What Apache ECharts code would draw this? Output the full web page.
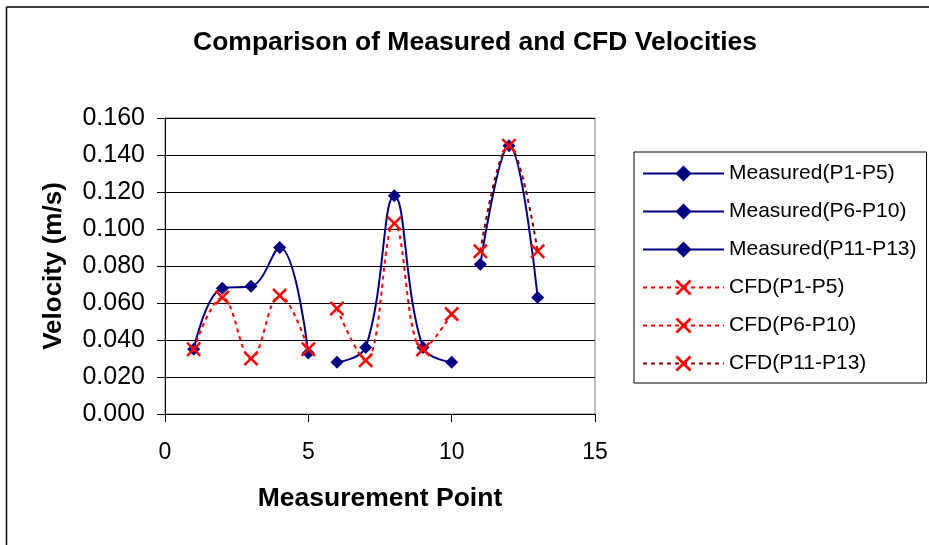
<!DOCTYPE html>
<html><head><meta charset="utf-8">
<script src="https://cdn.jsdelivr.net/npm/echarts@6/dist/echarts.min.js"></script>
<style>html,body{margin:0;padding:0;background:#fff}#c{width:929px;height:545px}</style>
</head><body><div id="c"></div>
<script>
// ---- data ----
const titleText = 'Comparison of Measured and CFD Velocities';
const xAxisName = 'Measurement Point';
const yAxisName = 'Velocity (m/s)';
const pointsP1_P5 = [1, 2, 3, 4, 5];
const pointsP6_P10 = [6, 7, 8, 9, 10];
const pointsP11_P13 = [11, 12, 13];
const measuredP1_P5 = [0.035, 0.068, 0.069, 0.090, 0.033];
const measuredP6_P10 = [0.028, 0.036, 0.118, 0.036, 0.028];
const measuredP11_P13 = [0.081, 0.145, 0.063];
const cfdP1_P5 = [0.035, 0.063, 0.030, 0.064, 0.035];
const cfdP6_P10 = [0.057, 0.029, 0.103, 0.035, 0.054];
const cfdP11_P13 = [0.088, 0.145, 0.088];
const seriesNames = ['Measured(P1-P5)', 'Measured(P6-P10)', 'Measured(P11-P13)', 'CFD(P1-P5)', 'CFD(P6-P10)', 'CFD(P11-P13)'];
const xMin = 0, xMax = 15, xStep = 5;
const yMin = 0, yMax = 0.16, yStep = 0.02;

// ---- build ----
const FONT = "'Liberation Sans', Arial, sans-serif";
const NAVY = '#000080', RED = '#FF0000', DARKRED = '#800000';
const X_PATH = 'path://M0,1.2 L1.2,0 L5,3.8 L8.8,0 L10,1.2 L6.2,5 L10,8.8 L8.8,10 L5,6.2 L1.2,10 L0,8.8 L3.8,5 Z';
const pair = (xs, ys) => xs.map((x, i) => [x, ys[i]]);

function measured(name, xs, ys) {
  return {
    name, type: 'line', data: pair(xs, ys), smooth: 0.4,
    symbol: 'diamond', symbolSize: 13,
    itemStyle: { color: NAVY },
    lineStyle: { color: NAVY, width: 2, type: 'solid' },
    emphasis: { disabled: true }, z: 2
  };
}
function cfd(name, xs, ys, lineColor) {
  return {
    name, type: 'line', data: pair(xs, ys), smooth: 0.4,
    symbol: X_PATH, symbolSize: 15,
    itemStyle: { color: RED },
    lineStyle: { color: lineColor, width: 2, type: [4, 4] },
    emphasis: { disabled: true }, z: 3
  };
}

const chart = echarts.init(document.getElementById('c'), null, { renderer: 'canvas' });
chart.setOption({
  animation: false,
  backgroundColor: '#fff',
  textStyle: { fontFamily: FONT },
  title: {
    text: titleText, left: 470, top: 24, textAlign: 'center',
    textStyle: { fontFamily: FONT, fontSize: 26.5, fontWeight: 'bold', color: '#000' }
  },
  graphic: [
    { type: 'line', shape: { x1: 6.5, y1: 7, x2: 929, y2: 7 }, style: { stroke: '#000', lineWidth: 1.5 } },
    { type: 'line', shape: { x1: 6.5, y1: 7, x2: 6.5, y2: 545 }, style: { stroke: '#000', lineWidth: 1.5 } }
  ],
  legend: {
    orient: 'vertical', left: 634, top: 152,
    padding: [11, 10, 9, 8],
    borderColor: '#000', borderWidth: 1,
    itemWidth: 81, itemHeight: 20, itemGap: 17,
    textStyle: { fontFamily: FONT, fontSize: 21, color: '#000' },
    data: seriesNames
  },
  grid: {
    left: 165, right: 334, top: 118, bottom: 131,
    show: true, borderColor: '#808080', borderWidth: 1, backgroundColor: '#fff'
  },
  xAxis: {
    type: 'value', min: xMin, max: xMax, interval: xStep,
    name: xAxisName, nameLocation: 'middle', nameGap: 71,
    nameTextStyle: { fontFamily: FONT, fontSize: 26.5, fontWeight: 'bold', color: '#000' },
    axisLine: { show: true, onZero: false, lineStyle: { color: '#000', width: 1 } },
    axisTick: { show: true, inside: false, length: 8, lineStyle: { color: '#000' } },
    axisLabel: { margin: 27, fontFamily: FONT, fontSize: 23, color: '#000' },
    splitLine: { show: false }
  },
  yAxis: {
    type: 'value', min: yMin, max: yMax, interval: yStep,
    name: yAxisName, nameLocation: 'middle', nameGap: 98,
    nameTextStyle: { fontFamily: FONT, fontSize: 26, fontWeight: 'bold', color: '#000' },
    axisLine: { show: true, lineStyle: { color: '#000', width: 1 } },
    axisTick: { show: true, inside: false, length: 8, lineStyle: { color: '#000' } },
    axisLabel: { margin: 20, fontFamily: FONT, fontSize: 25, color: '#000', formatter: v => v.toFixed(3) },
    splitLine: { show: true, lineStyle: { color: '#000', width: 1 } }
  },
  series: [
    measured(seriesNames[0], pointsP1_P5, measuredP1_P5),
    measured(seriesNames[1], pointsP6_P10, measuredP6_P10),
    measured(seriesNames[2], pointsP11_P13, measuredP11_P13),
    cfd(seriesNames[3], pointsP1_P5, cfdP1_P5, RED),
    cfd(seriesNames[4], pointsP6_P10, cfdP6_P10, RED),
    cfd(seriesNames[5], pointsP11_P13, cfdP11_P13, DARKRED)
  ]
});
</script></body></html>
